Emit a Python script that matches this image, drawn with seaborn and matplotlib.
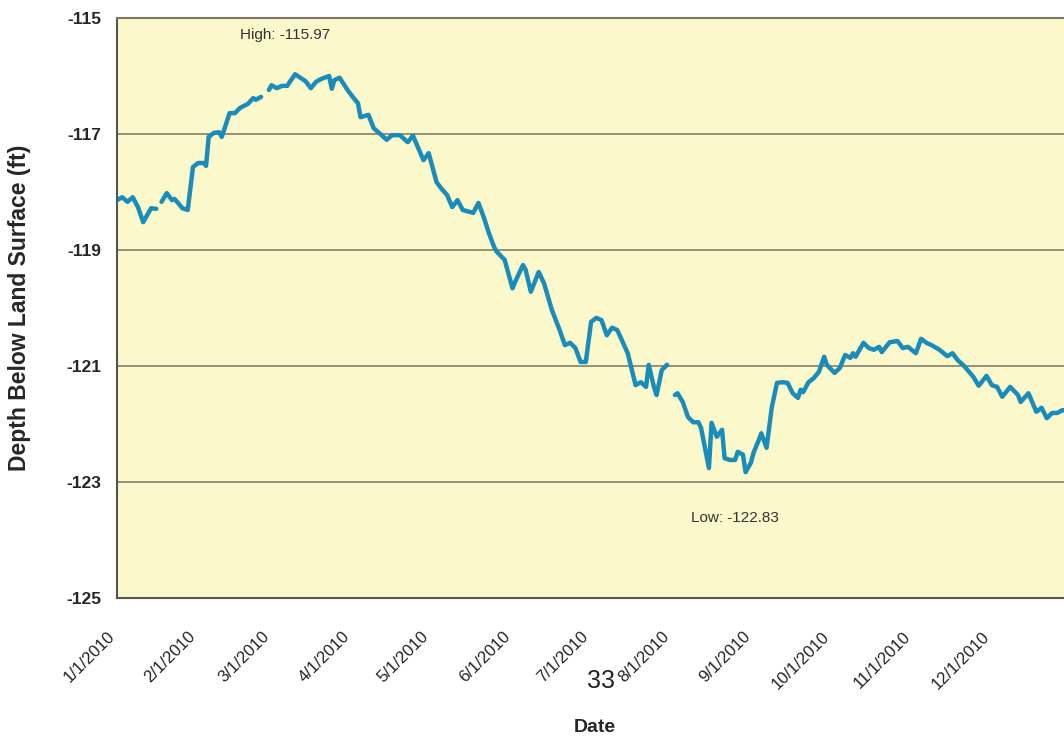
import numpy as np
import pandas as pd
import seaborn as sns
import matplotlib.pyplot as plt
import matplotlib.dates as mdates
from matplotlib.ticker import FuncFormatter
from matplotlib.transforms import ScaledTranslation

## daily water level read off the hydrograph (day offset from 1/1/2010)
# nan = gap in the record
days = [0, 2, 4, 6, 8, 10, 12, 13, 15, 16, 17, 19, 21, 22, 25, 27, 29, 31, 33, 34,
        35, 37, 39, 40, 43, 45, 47, 50, 52, 53, 55, 56, 58, 59, 61, 63, 65, 66, 68, 69,
        72, 74, 76, 78, 81, 82, 83, 85, 88, 90, 92, 93, 96, 98, 100, 103, 105, 108, 111, 113,
        117, 119, 122, 124, 126, 128, 130, 132, 136, 138, 140, 142, 144, 145, 148, 151, 152, 155, 156, 158,
        161, 163, 166, 169, 171, 173, 175, 177, 179, 181, 183, 185, 187, 189, 191, 195, 198, 200, 202, 203,
        205, 206, 208, 210, 211, 213, 214, 216, 218, 220, 222, 223, 226, 227, 229, 231, 232, 234, 236, 237,
        239, 240, 242, 243, 245, 246, 248, 250, 252, 254, 256, 258, 260, 261, 262, 264, 266, 268, 270, 271,
        274, 276, 278, 280, 281, 282, 285, 287, 289, 291, 292, 295, 298, 300, 302, 305, 307, 309, 311, 314,
        317, 319, 321, 323, 324, 327, 329, 332, 334, 336, 338, 341, 344, 345, 348, 351, 353, 355, 357, 359,
        361, 364]
depth = [-118.14, -118.09, -118.17, -118.09, -118.26, -118.52, -118.36, -118.28, -118.29, np.nan,
         -118.17, -118.02, -118.14, -118.12, -118.28, -118.31, -117.57, -117.50, -117.50, -117.55,
         -117.05, -116.98, -116.97, -117.05, -116.64, -116.64, -116.55, -116.48, -116.38, -116.41,
         -116.36, np.nan, -116.24, -116.16, -116.21, -116.17, -116.17, -116.10, -115.97, -116.00,
         -116.09, -116.21, -116.10, -116.05, -116.00, -116.22, -116.07, -116.03, -116.24, -116.36,
         -116.47, -116.71, -116.67, -116.90, -116.98, -117.10, -117.02, -117.02, -117.14, -117.03,
         -117.45, -117.33, -117.83, -117.95, -118.05, -118.26, -118.14, -118.31, -118.36, -118.19,
         -118.43, -118.71, -118.95, -119.03, -119.17, -119.66, -119.55, -119.26, -119.34, -119.72,
         -119.38, -119.57, -120.03, -120.38, -120.64, -120.60, -120.69, -120.93, -120.93, -120.24,
         -120.17, -120.21, -120.47, -120.34, -120.38, -120.78, -121.33, -121.28, -121.36, -120.98,
         -121.36, -121.50, -121.07, -120.98, np.nan, -121.50, -121.47, -121.62, -121.88, -121.97,
         -121.97, -122.07, -122.76, -121.98, -122.22, -122.10, -122.59, -122.62, -122.62, -122.48,
         -122.53, -122.83, -122.67, -122.50, -122.28, -122.16, -122.41, -121.71, -121.29, -121.28,
         -121.29, -121.47, -121.55, -121.41, -121.45, -121.28, -121.21, -121.10, -120.84, -120.98,
         -121.12, -121.03, -120.81, -120.86, -120.78, -120.84, -120.60, -120.69, -120.72, -120.67,
         -120.76, -120.59, -120.57, -120.69, -120.67, -120.78, -120.53, -120.60, -120.64, -120.72,
         -120.83, -120.78, -120.90, -120.98, -121.03, -121.19, -121.34, -121.17, -121.33, -121.36,
         -121.53, -121.36, -121.50, -121.62, -121.47, -121.79, -121.72, -121.90, -121.81, -121.81,
         -121.76, -121.78]

high_label = "High: -115.97"
low_label = "Low: -122.83"
y_ticks = [-125, -123, -121, -119, -117, -115]

df = pd.DataFrame({"date": pd.Timestamp("2010-01-01") + pd.to_timedelta(days, unit="D"),
                   "depth": depth})
# split the record at the gaps so the line is broken there
df["seg"] = df["depth"].isna().cumsum()
df = df.dropna()

sns.set_style("white")
plt.rcParams['font.family'] = ['Liberation Sans', 'DejaVu Sans']
plt.rcParams['axes.unicode_minus'] = False

fig = plt.figure(figsize=(10.64, 7.38), dpi=100)
ax = fig.add_axes([117 / 1064, 1 - 598 / 738, 956 / 1064, 580 / 738])
ax.set_facecolor("#fbf9cb")

sns.lineplot(data=df, x="date", y="depth", units="seg", estimator=None,
             color="#1a8cba", linewidth=3.2, ax=ax)

ax.set_xlim(pd.Timestamp("2010-01-01"), pd.Timestamp("2011-01-01"))
ax.set_ylim(-125, -115)
ax.set_yticks(y_ticks)
ax.yaxis.grid(True, color="#8c8a72", linewidth=1.3)
ax.set_axisbelow(True)

ax.set_xticks([pd.Timestamp("2010-%02d-01" % m) for m in range(1, 13)])
ax.xaxis.set_major_formatter(FuncFormatter(
    lambda v, p: "{d.month}/{d.day}/{d.year}".format(d=mdates.num2date(v))))

for s in ["left", "bottom"]:
    ax.spines[s].set_color("#555555")
    ax.spines[s].set_linewidth(1.5)
ax.spines["top"].set_color("#7a7868")
ax.spines["top"].set_linewidth(1.5)
ax.spines["right"].set_visible(False)

ax.tick_params(axis="y", direction="out", length=5, width=1.2, color="#555555",
               labelsize=12.5, pad=6)
ax.tick_params(axis="x", direction="out", length=5, width=1.2, color="#555555",
               labelsize=12, pad=21)
for t in ax.get_yticklabels():
    t.set_fontweight("bold")
shift = ScaledTranslation(-5 / 100, 0, fig.dpi_scale_trans)
for t in ax.get_xticklabels():
    t.set_rotation(45)
    t.set_ha("right")
    t.set_va("center")
    t.set_rotation_mode("anchor")
    t.set_color("#222222")
    t.set_transform(t.get_transform() + shift)

ax.set_xlabel("Date", fontsize=14, fontweight="bold")
ax.set_ylabel("Depth Below Land Surface (ft)", fontsize=16.5, fontweight="bold")
ax.xaxis.set_label_coords(0.5, (598 - 719) / 580)
ax.yaxis.set_label_coords((31 - 117) / 956, 0.5)

# high / low annotations
ax.text(pd.Timestamp("2010-03-06"), -115.29, high_label, fontsize=11,
        ha="center", va="center", color="#333333")
ax.text(pd.Timestamp("2010-08-25"), -123.62, low_label, fontsize=11,
        ha="center", va="center", color="#333333")

# page number stamped on the scan
fig.text(601 / 1064, 1 - 681 / 738, "33", fontsize=18, family="Liberation Sans",
         ha="center", va="center", color="#222222")

fig.savefig("out.png", dpi=100)
